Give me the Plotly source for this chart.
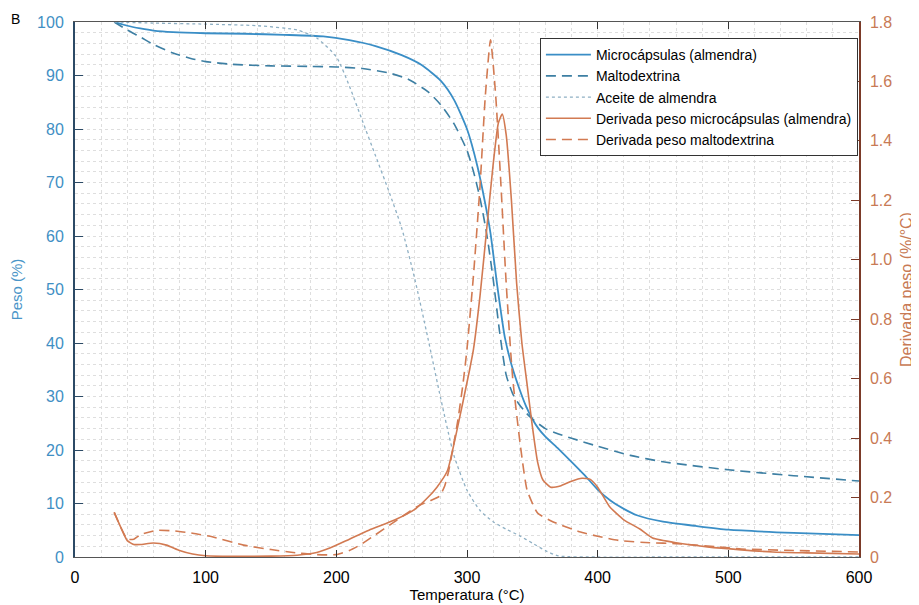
import plotly.graph_objects as go

# TGA - peso (%) frente a temperatura (°C)
t_micro = [30, 40, 50, 60, 75, 100, 130, 160, 190, 210, 230, 250, 265, 280, 290, 300, 308, 314, 318, 323, 329, 334, 340, 345, 350, 355, 360, 370, 380, 390, 400, 410, 420, 430, 450, 475, 500, 550, 600]
p_micro = [100, 99.3, 98.8, 98.4, 98.1, 97.9, 97.8, 97.6, 97.3, 96.6, 95.5, 93.8, 92, 89, 85.5, 80, 73, 66, 60.5, 51, 41, 36, 31.5, 28.3, 25.8, 23.9, 22.5, 20.2, 17.8, 15.3, 12.6, 10.5, 9, 7.8, 6.6, 5.8, 5.1, 4.5, 4.1]

t_malto = [30, 40, 50, 60, 75, 90, 100, 120, 150, 180, 200, 220, 240, 255, 270, 280, 290, 300, 305, 310, 315, 320, 325, 330, 335, 340, 345, 350, 360, 370, 380, 400, 425, 450, 500, 550, 600]
p_malto = [100, 98.5, 97.2, 95.8, 94.2, 93.1, 92.6, 92.1, 91.8, 91.7, 91.6, 91.3, 90.5, 89.3, 87, 84.5, 81, 76, 72, 67, 60.5, 52, 42, 34, 30.5, 28.5, 27, 25.8, 24, 23, 22.2, 20.7, 19, 17.8, 16.3, 15.2, 14.2]

t_aceite = [30, 60, 100, 140, 170, 185, 200, 210, 220, 230, 240, 250, 260, 270, 280, 290, 300, 310, 320, 330, 340, 350, 360, 370, 400, 450, 500, 600]
p_aceite = [100, 99.8, 99.6, 99.3, 98.5, 97, 93.5, 88, 81.5, 75, 68.5, 61.5, 52, 41, 29.5, 19, 12.5, 8.7, 6.6, 5.2, 4, 2.6, 1.2, 0.2, 0, 0, 0, 0]

# DTG - derivada del peso (%/°C)
t_dmicro = [30, 35, 40, 45, 50, 60, 70, 80, 90, 100, 120, 150, 170, 185, 195, 210, 225, 245, 260, 270, 277, 285, 292, 302, 305, 310, 315, 320, 324, 327, 330, 334, 338, 342, 346, 350, 354, 358, 364, 372, 380, 388, 394, 400, 409, 420, 432, 442, 460, 484, 510, 534, 560, 600]
d_dmicro = [0.15, 0.10, 0.055, 0.042, 0.042, 0.047, 0.04, 0.022, 0.01, 0.004, 0.002, 0.003, 0.006, 0.015, 0.03, 0.06, 0.09, 0.125, 0.16, 0.2, 0.235, 0.29, 0.42, 0.63, 0.70, 0.88, 1.1, 1.32, 1.46, 1.49, 1.42, 1.2, 0.92, 0.72, 0.58, 0.44, 0.32, 0.26, 0.235, 0.24, 0.255, 0.265, 0.262, 0.235, 0.17, 0.125, 0.095, 0.064, 0.048, 0.034, 0.024, 0.017, 0.014, 0.01]

t_dmalto = [30, 35, 40, 45, 50, 63, 75, 90, 105, 129, 150, 167, 185, 200, 210, 218, 230, 243, 255, 264, 272, 279, 283, 286, 289, 293, 297, 300, 305, 310, 314, 318, 322, 326, 330, 335, 341, 346, 354, 366, 386, 400, 417, 440, 460, 490, 510, 550, 600]
d_dmalto = [0.15, 0.10, 0.06, 0.06, 0.075, 0.09, 0.088, 0.08, 0.068, 0.04, 0.025, 0.015, 0.008, 0.008, 0.022, 0.04, 0.075, 0.114, 0.15, 0.175, 0.19, 0.205, 0.24, 0.29, 0.36, 0.46, 0.585, 0.70, 0.95, 1.25, 1.55, 1.74, 1.55, 1.25, 0.92, 0.6, 0.37, 0.225, 0.148, 0.118, 0.085, 0.07, 0.055, 0.048, 0.045, 0.035, 0.027, 0.022, 0.017]

x_ticks = [0, 100, 200, 300, 400, 500, 600]
y2_ticks = [0, 0.2, 0.4, 0.6, 0.8, 1.0, 1.2, 1.4, 1.6, 1.8]
y2_text = ["0", "0.2", "0.4", "0.6", "0.8", "1.0", "1.2", "1.4", "1.6", "1.8"]

AZUL = "#3a8ec6"
AZUL_OSC = "#3d7fa3"
PUNTOS = "#8fb0c4"
NARANJA = "#d27a52"
FUENTE = "Liberation Sans, Arial, sans-serif"

fig = go.Figure()
fig.add_trace(go.Scatter(x=t_micro, y=p_micro, name="Microcápsulas (almendra)", mode="lines",
                         line=dict(color=AZUL, width=1.8, shape="spline", smoothing=0.6)))
fig.add_trace(go.Scatter(x=t_malto, y=p_malto, name="Maltodextrina", mode="lines",
                         line=dict(color=AZUL_OSC, width=1.6, dash="10px,6px", shape="spline", smoothing=0.6)))
fig.add_trace(go.Scatter(x=t_aceite, y=p_aceite, name="Aceite de almendra", mode="lines",
                         line=dict(color=PUNTOS, width=1.3, dash="dot", shape="spline", smoothing=0.6)))
fig.add_trace(go.Scatter(x=t_dmicro, y=d_dmicro, name="Derivada peso microcápsulas (almendra)", mode="lines",
                         yaxis="y2", line=dict(color=NARANJA, width=1.6, shape="spline", smoothing=0.5)))
fig.add_trace(go.Scatter(x=t_dmalto, y=d_dmalto, name="Derivada peso maltodextrina", mode="lines",
                         yaxis="y2", line=dict(color=NARANJA, width=1.6, dash="10px,6px", shape="spline", smoothing=0.5)))

grid = dict(gridcolor="#dedede", griddash="dot", gridwidth=1)

# la página deja 8 px de margen en el body: el lienzo se reduce en esa medida
fig.update_layout(
    width=911, height=597,
    margin=dict(l=67, r=60, t=14, b=48, autoexpand=False),
    paper_bgcolor="white", plot_bgcolor="white",
    font=dict(family=FUENTE, size=16, color="black"),
    showlegend=True,
    legend=dict(x=0.593, y=0.97, xanchor="left", yanchor="top", itemwidth=45,
                bgcolor="white", bordercolor="#333333", borderwidth=1,
                font=dict(size=14, color="black"), tracegroupgap=0),
    xaxis=dict(range=[0, 600], tickvals=x_ticks, showline=True, linecolor="#555555", linewidth=1,
               mirror="ticks", ticks="inside", ticklen=7, tickcolor="#333333", automargin=False,
               ticklabelstandoff=6, tickfont=dict(size=16, color="black"),
               title=dict(text="Temperatura (°C)", font=dict(size=15, color="black"), standoff=2),
               showgrid=True, minor=dict(dtick=20, showgrid=True, **grid), zeroline=False, **grid),
    yaxis=dict(range=[0, 100], dtick=10, showline=True, linecolor="#2c4a66", linewidth=2,
               ticks="inside", ticklen=8, tickcolor="#2c4a66", automargin=False,
               ticklabelstandoff=6, tickfont=dict(size=16, color="#3f8fc4"),
               title=dict(text="Peso (%)", font=dict(size=15, color="#4a95c8"), standoff=11),
               showgrid=True, minor=dict(dtick=2, showgrid=True, **grid), zeroline=False, **grid),
    yaxis2=dict(range=[0, 1.8], tickvals=y2_ticks, ticktext=y2_text, overlaying="y", side="right",
                showline=True, linecolor="#7b3a28", linewidth=1.5, automargin=False,
                ticks="inside", ticklen=8, tickcolor="#7b3a28",
                ticklabelstandoff=6, tickfont=dict(size=16, color="#c87a55"),
                title=dict(text="Derivada peso (%/°C)", font=dict(size=16, color="#c87a55"), standoff=10),
                showgrid=False, zeroline=False),
    annotations=[dict(text="B", xref="paper", yref="paper", x=-0.084, y=1.024,
                      xanchor="left", yanchor="top", showarrow=False,
                      font=dict(size=14, color="black"))],
)

fig.write_html("out.html")
